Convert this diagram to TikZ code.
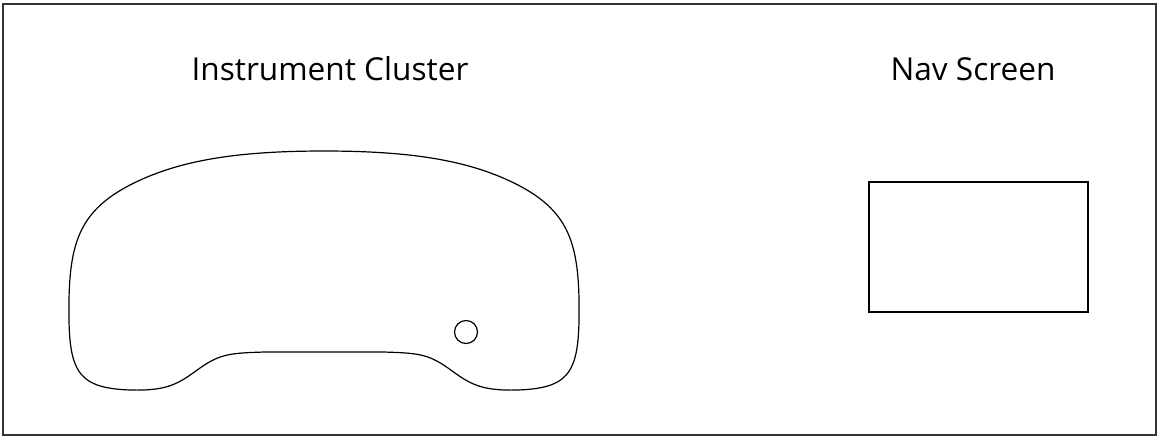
\documentclass[tikz,border=0pt]{standalone}
\usepackage{fontspec}
\setmainfont{Open Sans}
\usetikzlibrary{positioning}

\begin{document}
\begin{tikzpicture}[
    x=0.5pt, y=-0.5pt,
    outline/.style={draw=black, line width=0.6pt},
    title/.style={font=\fontsize{15.8}{19}\selectfont, anchor=base, inner sep=0pt}
]

    % Page size and frame
    \useasboundingbox (0,0) rectangle (1159,440);
    \draw[draw=black!80, line width=0.7pt] (3,4) rectangle (1156,435);

    % Titles
    \node[title] (cluster_title) at (330,80) {Instrument Cluster};
    \node[title] (nav_title) at (973,80) {Nav Screen};

    % Instrument cluster outline
    \draw[outline] (324,151)
      .. controls (230,151) and (175,162) .. (130,185)
      .. controls (82,210) and (70,240) .. (69,300)
      .. controls (68,370) and (75,388) .. (130,390)
      .. controls (168,391) and (178,384) .. (200,368)
      .. controls (220,354) and (230,353) .. (265,352)
      -- (383,352)
      .. controls (418,353) and (428,354) .. (448,368)
      .. controls (470,384) and (480,391) .. (518,390)
      .. controls (573,388) and (580,370) .. (579,300)
      .. controls (578,240) and (566,210) .. (518,185)
      .. controls (473,162) and (418,151) .. (324,151) -- cycle;

    % Small knob on the cluster
    \node[outline, circle, minimum size=11.5pt, inner sep=0pt] (knob) at (466,332) {};

    % Nav screen
    \draw[outline] (869,182) rectangle (1088,312);

\end{tikzpicture}
\end{document}
